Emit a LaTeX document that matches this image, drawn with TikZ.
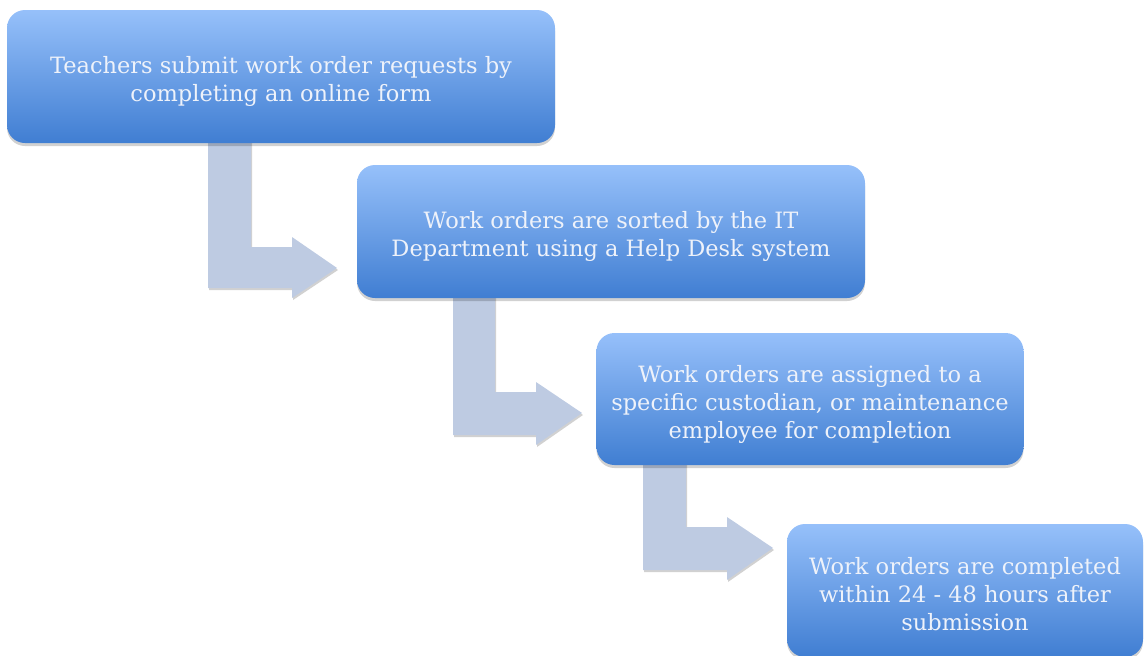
\documentclass[tikz,border=0pt]{standalone}
\usepackage{fontspec}
\setmainfont{DejaVu Serif}
\usetikzlibrary{shadows}
\definecolor{boxtop}{RGB}{150,192,250}
\definecolor{boxbot}{RGB}{64,126,210}
\definecolor{arrowfill}{RGB}{190,203,226}
\definecolor{txt}{RGB}{238,242,250}
\tikzset{
  stepbox/.style={rounded corners=18pt, top color=boxtop, bottom color=boxbot, draw=none,
    inner sep=0pt,
    drop shadow={shadow xshift=0pt, shadow yshift=-3pt, opacity=0.18, fill=black}},
  steptext/.style={text=txt, align=center, font=\fontsize{22.5}{28}\selectfont, inner sep=0pt},
  blockarrow/.style={fill=arrowfill, draw=none,
    drop shadow={shadow xshift=1pt, shadow yshift=-2pt, opacity=0.18, fill=black}}
}
\begin{document}
\begin{tikzpicture}[x=1pt,y=-1pt]
\useasboundingbox (0,0) rectangle (1144,656);
% block arrows (behind boxes)
\draw[blockarrow] (208,130) -- (251,130) -- (251,247) -- (292,247) -- (292,237) -- (337,268)
  -- (292,298) -- (292,288) -- (208,288) -- cycle;
\draw[blockarrow] (453,285) -- (495,285) -- (495,392) -- (536,392) -- (536,382) -- (582,413)
  -- (536,445) -- (536,435) -- (453,435) -- cycle;
\draw[blockarrow] (643,455) -- (686,455) -- (686,527) -- (727,527) -- (727,517) -- (773,548)
  -- (727,580) -- (727,570) -- (643,570) -- cycle;
% boxes
\node[stepbox, minimum width=548pt, minimum height=133pt] (b1) at (281,76.5) {};
\node[stepbox, minimum width=508pt, minimum height=133pt] (b2) at (611,231.5) {};
\node[stepbox, minimum width=427pt, minimum height=132pt] (b3) at (810,399) {};
\node[stepbox, minimum width=356pt, minimum height=133pt] (b4) at (965,590.5) {};
% texts
\node[steptext] (t1) at ([yshift=-5pt]b1.center)
  {Teachers submit work order requests by\\completing an online form};
\node[steptext] (t2) at ([yshift=-5pt]b2.center)
  {Work orders are sorted by the IT\\Department using a Help Desk system};
\node[steptext] (t3) at ([yshift=-5pt]b3.center)
  {Work orders are assigned to a\\specific custodian, or maintenance\\employee for completion};
\node[steptext] (t4) at ([yshift=-4pt]b4.center)
  {Work orders are completed\\within 24 - 48 hours after\\submission};
\end{tikzpicture}
\end{document}
